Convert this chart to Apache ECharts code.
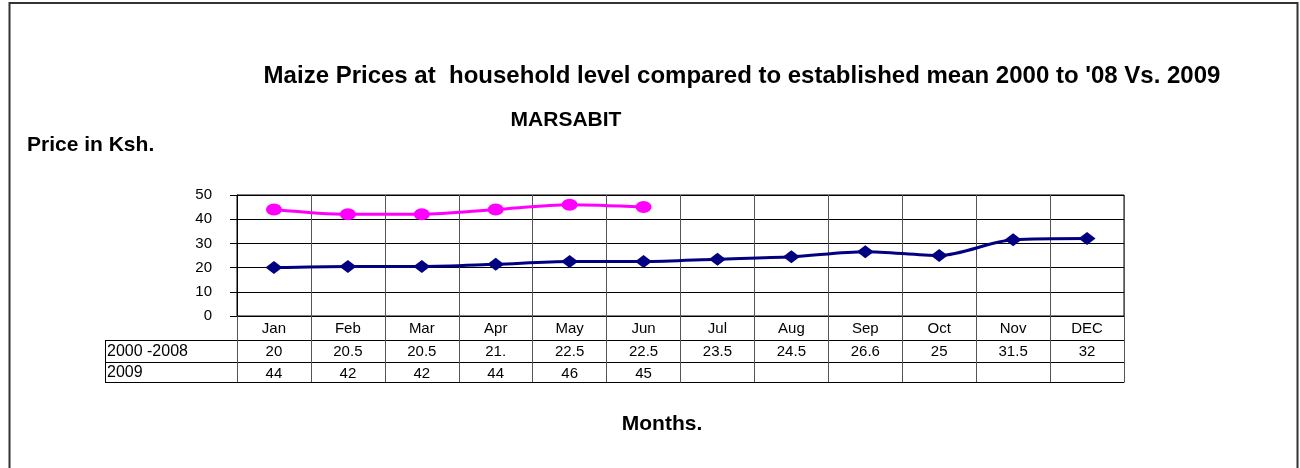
<!DOCTYPE html>
<html lang="en">
<head>
    <meta charset="UTF-8">
    <title>Maize Prices - Marsabit</title>
    <script src="https://cdn.jsdelivr.net/npm/echarts/dist/echarts.min.js"></script>
    <style>
        html, body { margin: 0; padding: 0; background: #fff; }
        #chart { width: 1300px; height: 468px; }
    </style>
</head>
<body>
    <div id="chart"></div>

    <script>
        var months = ['Jan', 'Feb', 'Mar', 'Apr', 'May', 'Jun', 'Jul', 'Aug', 'Sep', 'Oct', 'Nov', 'DEC'];
        var mean0008 = [20, 20.5, 20.5, 21.4, 22.5, 22.5, 23.5, 24.5, 26.6, 25, 31.5, 32];
        var prices2009 = [44, 42, 42, 44, 46, 45, null, null, null, null, null, null];
        // text as printed in the data table
        var meanLabels = ['20', '20.5', '20.5', '21.', '22.5', '22.5', '23.5', '24.5', '26.6', '25', '31.5', '32'];
        var labels2009 = ['44', '42', '42', '44', '46', '45', '', '', '', '', '', ''];
        var rowNames = ['2000 -2008', '2009'];

        var chart = echarts.init(document.getElementById('chart'));
        var font = 'Liberation Sans, Arial, sans-serif';

        function tableAxis(offset, tickLen, labels, showTick) {
            return {
                type: 'category',
                data: months,
                position: 'bottom',
                offset: offset,
                boundaryGap: true,
                axisLine: { show: true, lineStyle: { color: '#000', width: 1 } },
                axisTick: { show: showTick, length: tickLen, lineStyle: { color: '#555' } },
                axisLabel: {
                    show: !!labels,
                    margin: 4,
                    color: '#000',
                    fontFamily: font,
                    fontSize: 15,
                    formatter: function (v, i) { return labels ? labels[i] : ''; }
                },
                splitLine: { show: false }
            };
        }

        function heading(text, x, y, size, align) {
            return {
                type: 'text', x: x, y: y,
                style: { text: text, font: 'bold ' + size + 'px ' + font, fill: '#000', textAlign: align || 'center', textVerticalAlign: 'middle' }
            };
        }

        var option = {
            animation: false,
            backgroundColor: '#fff',
            grid: { left: 237, right: 176, top: 195, bottom: 152, show: true, borderColor: '#000', borderWidth: 1 },
            xAxis: [
                {
                    type: 'category',
                    data: months,
                    boundaryGap: true,
                    axisLine: { lineStyle: { color: '#000', width: 1 } },
                    axisTick: { show: true, length: 24, lineStyle: { color: '#555' } },
                    axisLabel: { margin: 5, color: '#000', fontFamily: font, fontSize: 15 },
                    splitLine: { show: true, lineStyle: { color: '#555', width: 1 } }
                },
                tableAxis(24, 22, meanLabels, true),
                tableAxis(46, 20, labels2009, true),
                tableAxis(66, 0, null, false)
            ],
            yAxis: {
                type: 'value',
                min: 0,
                max: 50,
                interval: 10,
                axisLine: { show: true, lineStyle: { color: '#000' } },
                axisTick: { show: true, length: 7, lineStyle: { color: '#000' } },
                axisLabel: { margin: 25, color: '#000', fontFamily: font, fontSize: 15 },
                splitLine: { show: true, lineStyle: { color: '#000', width: 1 } }
            },
            series: [
                {
                    name: '2000 -2008',
                    type: 'line',
                    data: mean0008,
                    smooth: 0.3,
                    symbol: 'diamond',
                    symbolSize: [17, 13],
                    lineStyle: { color: '#000080', width: 3 },
                    itemStyle: { color: '#000080' }
                },
                {
                    name: '2009',
                    type: 'line',
                    data: prices2009,
                    smooth: 0.3,
                    symbol: 'circle',
                    symbolSize: [16, 12],
                    lineStyle: { color: '#FF00FF', width: 3 },
                    itemStyle: { color: '#FF00FF' }
                }
            ],
            graphic: [
                { type: 'rect', shape: { x: 9.5, y: 3, width: 1288, height: 480 }, style: { fill: 'none', stroke: '#333', lineWidth: 2 }, silent: true },
                heading("Maize Prices at  household level compared to established mean 2000 to '08 Vs. 2009", 742, 76, 24),
                heading('MARSABIT', 566, 120, 21),
                heading('Price in Ksh.', 27, 145, 21, 'left'),
                heading('Months.', 662, 424, 21),
                // row header part of the data table
                { type: 'line', shape: { x1: 105, y1: 340.5, x2: 237, y2: 340.5 }, style: { stroke: '#000', lineWidth: 1 } },
                { type: 'line', shape: { x1: 105, y1: 362.5, x2: 237, y2: 362.5 }, style: { stroke: '#000', lineWidth: 1 } },
                { type: 'line', shape: { x1: 105, y1: 382.5, x2: 237, y2: 382.5 }, style: { stroke: '#000', lineWidth: 1 } },
                { type: 'line', shape: { x1: 105.5, y1: 340, x2: 105.5, y2: 383 }, style: { stroke: '#000', lineWidth: 1 } },
                { type: 'text', x: 107, y: 352, style: { text: rowNames[0], font: '16px ' + font, fill: '#000', textVerticalAlign: 'middle' } },
                { type: 'text', x: 107, y: 373, style: { text: rowNames[1], font: '16px ' + font, fill: '#000', textVerticalAlign: 'middle' } }
            ]
        };

        chart.setOption(option);
    </script>
</body>
</html>
